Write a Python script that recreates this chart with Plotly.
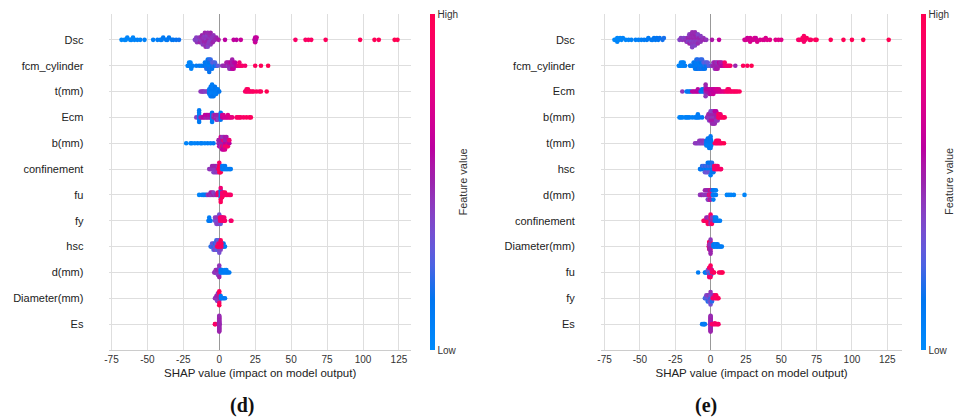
import numpy as np
import plotly.graph_objects as go

# ---------------- data (SHAP value, normalised feature value) ----------------
FEATURES_D = ["Dsc", "fcm_cylinder", "t(mm)", "Ecm", "b(mm)", "confinement",
              "fu", "fy", "hsc", "d(mm)", "Diameter(mm)", "Es"]
FEATURES_E = ["Dsc", "fcm_cylinder", "Ecm", "b(mm)", "t(mm)", "hsc",
              "d(mm)", "confinement", "Diameter(mm)", "fu", "fy", "Es"]
X_TICKS = [-75, -50, -25, 0, 25, 50, 75, 100, 125]

DSC_D = [(-68,.02),(-66,.03),(-65,.02),(-64,.04),(-62,.03),(-61,.05),(-60,.04),(-59,.05),(-57,.06),(-55,.05),(-52,.07),
         (-46,.08),(-43,.1),(-41,.09),(-40,.1),(-39,.12),(-37,.11),(-36,.12),(-35,.13),(-33,.14),(-32,.15),(-30,.16),(-28,.17),
         (-17,.4),(-16,.42),(-15.5,.45),(-15,.4),(-14,.45),(-13.5,.5),(-13,.42),(-12.5,.48),(-12,.45),(-12,.5),(-11.5,.42),(-11,.48),
         (-11,.45),(-10.5,.5),(-10,.42),(-10,.45),(-10,.5),(-9.5,.48),(-9,.4),(-9,.45),(-9,.5),(-8.5,.42),(-8,.45),(-8,.48),(-8,.4),
         (-7.5,.5),(-7,.45),(-7,.42),(-6.5,.48),(-6,.45),(-6,.5),(-5.5,.42),(-5,.45),(-4.5,.5),(-4,.45),(-3,.48),(-2,.5),
         (-0.5,.55),(4,.6),(10,.62),(12,.6),(15,.65),(24.5,.62),(25,.6),(25,.66),(25.5,.58),(26,.64),
         (53,.9),(60,.92),(62,.93),(64,.92),(74,.95),(98,.97),(108,.98),(111,.97),(122,1.0),(124,1.0)]
FCM_D = [(-22,.05),(-21.5,.05),(-21,.06),(-21,.04),(-20.5,.05),(-20,.06),(-20,.05),(-19.5,.07),(-19,.06),(-18.5,.08),
         (-16,.1),(-14,.12),(-12.5,.1),(-11,.12),(-10,.15),(-10,.12),(-9,.1),(-9,.15),(-9,.2),(-8,.12),(-8,.1),(-8,.18),(-8,.14),
         (-7,.1),(-7,.15),(-7,.12),(-7,.2),(-7,.16),(-6,.1),(-6,.14),(-6,.18),(-6,.22),(-5,.12),(-5,.25),(-5,.15),(-4,.2),(-4,.3),
         (-3,.15),(-3,.25),(-2,.2),(-1,.3),
         (2,.45),(3,.5),(4,.48),(5,.5),(5,.55),(6,.45),(6,.52),(7,.5),(7,.55),(7,.48),(8,.5),(8,.6),(8,.45),(9,.55),(9,.5),
         (9,.6),(9,.52),(10,.5),(10,.58),(10,.62),(11,.55),(11,.6),(12,.62),
         (13,.75),(14,.8),(14,.85),(15,.85),(16,.9),(18,.88),(25,.95),(29,.97),(34,1.0)]
T_D = [(-13,.45),(-12,.45),(-11.5,.42),(-11,.45),(-10,.4),(-9,.42),(-8,.4),
       (-7,.1),(-7,.12),(-7,.15),(-6,.1),(-6,.12),(-6,.08),(-6,.14),(-6,.1),(-5,.1),(-5,.12),(-5,.08),(-5,.1),(-5,.14),(-5,.1),
       (-4,.1),(-4,.12),(-4,.1),(-4,.08),(-4,.15),(-3,.1),(-3,.12),(-3,.1),(-3,.14),(-2,.1),(-2,.12),(-2,.1),(-1,.12),(-1,.1),(0,.15),
       (18,.9),(19,.92),(19,.88),(20,.9),(20,.95),(21,.9),(22,.92),(23,.9),(24,.93),(26,.95),(28,.9),(29,.95),(33,1.0)]
ECM_D = [(-16,.4),(-14,.1),(-14,.12),(-14,.1),(-14,.08),(-14,.12),(-14,.1),(-13,.5),(-12,.55),(-11,.6),(-10,.55),(-10,.6),
         (-9,.5),(-9,.62),(-8,.55),(-8,.6),(-7,.5),(-7,.58),(-6,.55),(-6,.6),
         (-5,.1),(-5,.12),(-5,.1),(-5,.14),(-5,.1),(-4,.5),(-4,.45),(-3,.5),(-3,.55),(-2,.45),(-2,.5),(-2,.55),(-1,.45),(-1,.5),
         (-1,.4),(0,.45),(0,.5),
         (1,.15),(1,.12),(1,.15),(1,.1),(2,.6),(2,.65),(3,.65),(3,.7),(4,.7),(5,.68),(6,.7),(6,.75),(7,.72),(8,.75),(9,.8),
         (12,.9),(13,.92),(14,.9),(15,.92),(17,.9),(19,.95),(21,.92),(22,.95)]
B_D = [(-23,.05),(-20,.05),(-19,.06),(-17,.05),(-15,.08),(-13,.06),(-12,.08),(-10,.07),(-8,.1),(-6,.08),(-4,.12),
       (-0.5,.5),(-0.5,.55),(0,.45),(0,.5),(0,.6),(1,.5),(1,.55),(1,.45),(1,.7),(2,.5),(2,.55),(2,.85),(2,.45),(2,.6),
       (3,.5),(3,.9),(3,.55),(3,.45),(3,.65),(4,.6),(4,.5),(4,.9),(4,.55),(4,.7),(5,.6),(5,.5),(5,.85),(5,.55),
       (6,.7),(6,.55),(6,.9),(7,.6),(7,.85)]
CONF_D = [(-7,.45),(-6,.45),(-5,.45),(-5,.5),(-4,.45),(-4,.5),(-4,.4),(-3,.45),(-3,.5),(-3,.4),(-2,.45),(-2,.5),(-2,.45),
          (-1,.5),(-1,.45),(-1,.4),
          (-0.5,.95),(0,.95),(0,1.0),(0,.95),(0,.9),(0.5,.95),(0.5,1.0),(0.5,.95),(1,.9),(1,.95),(1,1.0),(1.5,.95),(1.5,.9),
          (2,.1),(2,.12),(3,.1),(3,.08),(4,.1),(4,.12),(5,.1),(6,.08),(7,.1),(8,.1)]
FU_D = [(-14,.05),(-12,.08),(-11,.1),(-10,.1),(-9,.12),
        (-8,.45),(-7,.5),(-6,.45),(-6,.5),(-5,.45),(-5,.55),(-4,.5),(-4,.4),(-3,.45),(-2,.5),
        (-1,.85),(-1,.9),(0,.9),(0,.85),(1,.1),(1,.12),(1,.1),(1,.15),(1,.9),(1,.85),(1,.95),(2,.9),(2,.85),(2,.95),
        (3,.9),(3,.85),(4,.9),(4,.95),(5,.9),(6,.92),(7,.95),(8,.9)]
FY_D = [(-7.5,.1),(-7,.12),(-7,.1),(-6.5,.1),(-6,.12),
        (-3,.35),(-3,.4),(-2,.3),(-2,.45),(-2,.4),(-1,.35),(-1,.45),(-1,.4),(0,.3),(0,.45),(0,.4),(0,.35),(1,.4),(1,.45),
        (1,.3),(2,.4),(2,.45),
        (0.5,.85),(0.5,.9),(1.5,.85),(1.5,.9),(2.5,.9),(2.5,.85),(3.5,.9),(3.5,.85),(4,.9),
        (8,.7),(8.5,.9)]
HSC_D = [(-6,.2),(-5,.25),(-5,.3),(-4,.2),(-4,.35),(-4,.25),(-3,.3),(-3,.2),(-3,.4),(-2,.25),(-2,.35),(-2,.3),(-2,.2),
         (-1,.3),(-1,.4),(-1,.25),(-1,.35),(0,.2),(0,.3),(0,.4),(0,.25),(0,.35),(1,.3),(1,.2),(1,.4),(2,.25),(2,.3),
         (3,.2),(3,.15),(4,.1),
         (-1.5,.95),(-0.5,.95),(-0.5,.9),(0.5,.95),(1.5,.9),(1.5,.95),(1,.95)]
DD_D = [(-3.5,.45),(-3,.45),(-2.5,.45),(-2.5,.5),(-2,.45),(-2,.4),(-1.5,.45),(-1.5,.5),(-1,.45),(-1,.5),(-1,.4),
        (-0.5,.45),(-0.5,.5),(-0.5,.4),(0,.45),(0,.5),(0,.45),(0,.4),(0,.5),(0,.45),
        (1,.1),(1,.12),(2,.1),(2,.12),(3,.1),(4,.1),(4,.08),(5,.1),(5,.08),(6,.1),(7,.1)]
DIAM_D = [(-3,.45),(-2.5,.45),(-2,.45),(-2,.5),(-1.5,.45),(-1.5,.5),(-1.5,.4),(-1,.45),(-1,.5),(-1,.4),(-1,.45),
          (-0.5,.45),(-0.5,.5),(-0.5,.4),(-0.5,.45),(0,.45),(0,.5),(0,.4),
          (0,.95),(0,.9),(0,.95),(0,1.0),(0.5,.95),(0.5,.9),
          (1,.1),(1,.12),(2,.1),(3,.1),(4,.1)]
ES_D = [(-3,.95),(-2.8,.9),
        (0,.5),(0,.48),(0,.5),(0,.52),(0,.5),(0,.48),(0,.5),(0,.52),(0,.5),(0,.48),
        (0,.5),(0,.52),(0,.5),(0,.48),(0,.5),(0,.52),(0,.5),(0,.48),(0.1,.45),(-0.1,.5)]

DSC_E = [(-68,.02),(-67,.03),(-66,.02),(-66,.04),(-65,.03),(-64,.02),(-63,.04),(-62,.05),(-60,.04),(-58,.05),(-56,.06),
         (-53,.08),(-51,.07),(-49,.09),
         (-47,.1),(-45,.12),(-44,.1),(-42,.13),(-41,.12),(-40,.14),(-39,.13),(-38,.15),(-37,.14),(-36,.16),(-34,.17),(-33,.18),
         (-22,.4),(-21,.42),(-20,.45),(-19,.4),(-18,.45),(-17,.42),(-17,.48),(-16,.45),(-16,.5),(-16,.4),(-15,.45),(-15,.5),
         (-15,.42),(-14,.45),(-14,.5),(-14,.4),(-14,.48),(-13,.45),(-13,.5),(-13,.42),(-13,.48),(-13,.4),(-12,.45),(-12,.5),
         (-12,.42),(-12,.48),(-11,.45),(-11,.5),(-11,.4),(-11,.48),(-10,.45),(-10,.5),(-10,.42),(-9,.45),(-9,.48),(-9,.4),
         (-8,.45),(-8,.5),(-7,.45),(-7,.42),(-6,.48),(-5,.45),(-4,.5),(-3,.45),
         (1,.55),(6,.62),
         (24,.68),(25,.7),(26,.66),(27,.7),(28,.68),(28,.72),(29,.7),(30,.68),(31,.72),(32,.7),(32,.66),(33,.72),(35,.7),
         (37,.74),(38,.7),(39,.72),(40,.74),(42,.75),(46,.74),(48,.76),(50,.75),
         (62,.88),(63,.9),(65,.9),(65,.92),(66,.88),(66,.92),(67,.9),(68,.93),(70,.9),(71,.92),(74,.94),(75,.95),
         (85,.97),(94,.98),(100,.98),(108,1.0),(126,1.0)]
FCM_E = [(-22.5,.05),(-22,.05),(-21,.06),(-21,.04),(-20,.05),(-20,.06),(-19,.05),(-19,.07),(-18,.08),
         (-14.5,.1),(-14,.12),(-13,.1),(-12,.12),(-12,.1),(-11,.12),(-11,.15),(-11,.1),(-10,.12),(-10,.1),(-10,.15),(-10,.18),
         (-9,.1),(-9,.12),(-9,.15),(-9,.2),(-8,.12),(-8,.1),(-8,.18),(-7,.1),(-7,.15),(-7,.12),(-7,.2),(-6,.1),(-6,.14),
         (-6,.18),(-6,.22),(-5,.12),(-5,.25),(-5,.15),(-4,.2),(-4,.3),(-4,.15),(-3,.15),(-3,.25),(-2,.2),(-2,.3),(-1,.3),(0,.25),
         (1,.45),(2,.5),(2,.45),(3,.5),(3,.55),(3,.45),(4,.5),(4,.48),(4,.55),(5,.5),(5,.45),(5,.55),(6,.5),(6,.6),(7,.55),
         (7,.5),(8,.6),(8,.55),(9,.6),
         (10,.8),(10,.9),(11,.85),(12,.9),(13,.85),(14,.9),(17.5,.5),
         (23,.95),(26,.95),(29,1.0)]
ECM_E = [(-20,.45),(-17,.1),(-16,.12),(-15,.1),(-14,.12),(-13,.6),(-12,.62),(-11,.58),(-10,.6),(-9,.62),(-9,.58),(-8,.6),
         (-7,.15),(-6,.12),(-6,.15),(-5,.1),(-5,.15),(-4,.12),
         (-3.5,.45),(-3.5,.5),(-3.5,.42),(-3.5,.48),(-3.5,.45),(-3.5,.5),
         (-3,.55),(-3,.6),(-2,.55),(-2,.6),(-1,.58),(-1,.62),(-1,.55),(0,.6),(0,.58),(0,.62),(1,.6),(1,.65),(1,.58),
         (2,.62),(2,.6),(2,.66),(3,.62),(3,.65),(4,.65),(4,.68),(5,.66),(5,.7),(6,.68),(6,.72),(7,.7),(8,.72),(9,.75),(10,.78),
         (11,.85),(12,.88),(12,.9),(13,.88),(13,.9),(14,.9),(15,.92),(16,.9),(17,.92),(18,.94),(19,.92),(20.5,.95)]
B_E = [(-22,.05),(-21,.05),(-20,.06),(-18,.05),(-17,.07),(-16,.06),(-15,.08),(-13,.07),(-11,.08),(-10,.1),(-9,.08),
       (-9,.1),(-8,.1),(-6,.12),
       (-2.5,.45),(-2,.5),(-1.5,.45),(-1.5,.5),(-1,.45),(-1,.5),(-1,.4),(0,.45),(0,.5),(0,.55),(0,.4),(1,.45),(1,.5),
       (1,.55),(1,.4),(1,.48),(2,.45),(2,.5),(2,.55),(2,.42),(2,.48),(3,.45),(3,.5),(3,.55),(3,.6),(3,.48),(4,.5),(4,.55),
       (4,.45),(4,.6),(5,.5),(5,.55),(5,.45),
       (5.5,.9),(5.5,.85),(6,.9),(6,.95),(7,.9),(7,.85),(8,.9),(9,.95),(10,.95)]
T_E = [(-11,.45),(-10,.42),(-9,.45),(-8,.4),(-8,.45),(-7,.42),(-7,.45),(-6,.4),(-6,.45),(-5,.42),(-5,.45),(-4,.4),
       (-3,.1),(-3,.12),(-3,.08),(-2,.1),(-2,.12),(-2,.08),(-2,.14),(-1,.1),(-1,.12),(-1,.08),(-1,.14),(-1,.1),
       (0,.1),(0,.12),(0,.08),(0,.14),(0,.1),(0,.12),(0.5,.1),(0.5,.12),(0.5,.08),
       (3,.9),(4,.9),(4,.92),(5,.9),(5,.95),(6,.9),(6,.92),(7,.9),(8,.95),(9.5,1.0)]
HSC_E = [(-7.5,.1),(-7,.15),(-6,.1),(-6,.2),(-5,.15),(-5,.25),(-4,.1),(-4,.2),(-4,.3),(-3,.15),(-3,.25),(-3,.35),
         (-2,.1),(-2,.2),(-2,.3),(-2,.15),(-1,.1),(-1,.25),(-1,.35),(-1,.15),(0,.1),(0,.2),(0,.3),(0,.15),(0,.1),
         (1,.15),(1,.25),(1,.1),(1,.2),(2,.1),(2,.2),(2,.15),(3,.1),(3,.2),
         (2.5,.85),(2.5,.9),(3.5,.85),(3.5,.9),(4,.9),(4,.95),(5,.9),(5,.85),(6,.9),(7,.95),(7.5,.9)]
DD_E = [(-7.5,.45),(-6.5,.45),(-6,.5),(-5,.45),(-4,.45),(-4,.5),(-3,.45),(-3,.5),(-2,.45),(-2,.5),(-2,.4),
        (-1.5,.45),(-1.5,.5),(-1.5,.4),
        (-1,.85),(-1,.5),(-0.5,.9),(-0.5,.5),(-0.5,.85),(0,.45),(0,.9),(0,.5),(0.5,.85),(0.5,.5),(1,.9),
        (1.5,.1),(1.5,.12),(2,.1),(2,.12),(2,.08),(3,.1),(3,.12),(3.8,.1),(3.8,.08),
        (11.5,.05),(13,.05),(14.5,.05),(16.5,.06),(24,.05)]
CONF_E = [(-5,.95),(-4.5,.9),(-4,.95),(-3,.95),(-3,.5),(-2,.9),(-2,.5),(-2,.95),(-1,.95),(-1,.45),(-1,.9),
          (0,.5),(0,.95),(0,.45),(0,.9),(1,.5),(1,.45),(1,.95),(2,.5),(2,.45),
          (3,.1),(3,.12),(4,.1),(4,.08),(5,.1),(6,.1),(6.7,.08)]
DIAM_E = [(-1.3,.95),(-1,.95),(-1,.9),(-1,1.0),(-1,.95),(-0.5,.95),(-0.5,.9),(-0.5,1.0),(-0.5,.95),
          (0,.95),(0,.9),(0,1.0),(0,.95),
          (-0.8,.5),(-0.8,.45),(-0.8,.5),(0,.5),(0,.45),(0,.5),
          (2,.1),(2,.12),(3,.1),(3,.12),(4,.1),(4,.08),(5,.1),(5,.12),(6,.1),(7,.1),(8,.1)]
FU_E = [(-8.8,.1),(-4,.1),(-3.5,.12),(-3,.1),
        (-2,.2),(-2,.3),(-1,.25),(-1,.35),(-1,.45),(0,.2),(0,.3),(0,.4),(0,.45),(0.5,.3),(0.5,.4),(0.5,.2),
        (-1,.9),(-1,.85),(0,.9),(0,.95),(1,.9),(1,.85),(2,.9),(2.5,.95),
        (6,.95),(7,.9),(8,.95),(8.5,1.0)]
FY_E = [(-4,.2),(-3.5,.3),(-3,.25),(-3,.4),(-2,.3),(-2,.4),(-2,.2),(-1,.35),(-1,.45),(-1,.25),
        (0,.2),(0,.3),(0,.4),(0,.45),(0,.35),(1,.3),(1,.4),(1,.2),(2,.35),(2,.45),
        (1.5,.9),(3,.9),(3,.85),(4,.9),(4,.95),(5,.9),(5.6,.95)]
ES_E = [(-6,.1),(-5,.12),(-4.5,.1),(-4,.1),
        (0,.5),(0,.48),(0,.5),(0,.52),(0,.5),(0,.48),(0,.5),(0,.52),(0,.5),(0,.48),
        (0,.5),(0,.52),(0,.5),(0,.48),(0,.5),(0,.52),(0,.5),(0,.48),(-0.5,.45),(0.5,.5),
        (1,.9),(2,.9),(3,.85),(3,.9),(4,.9),(5,.95),(5.6,.9)]

ROWS_D = [DSC_D, FCM_D, T_D, ECM_D, B_D, CONF_D, FU_D, FY_D, HSC_D, DD_D, DIAM_D, ES_D]
ROWS_E = [DSC_E, FCM_E, ECM_E, B_E, T_E, HSC_E, DD_E, CONF_E, DIAM_E, FU_E, FY_E, ES_E]


# ---------------- colour map (SHAP red_blue, LCH interpolation) ----------------
def lch_to_hex(L, C, h):
    a, b = C * np.cos(h), C * np.sin(h)
    fy = (L + 16) / 116
    fx, fz = fy + a / 500, fy - b / 200

    def finv(t):
        return t ** 3 if t ** 3 > 0.008856 else (t - 16 / 116) / 7.787

    X, Y, Z = 0.95047 * finv(fx), finv(fy), 1.08883 * finv(fz)
    rgb = [3.2406 * X - 1.5372 * Y - 0.4986 * Z,
           -0.9689 * X + 1.8758 * Y + 0.0415 * Z,
           0.0557 * X - 0.2040 * Y + 1.0570 * Z]
    out = []
    for c in rgb:
        c = 1.055 * c ** (1 / 2.4) - 0.055 if c > 0.0031308 else 12.92 * c
        out.append(int(round(min(max(c, 0), 1) * 255)))
    return "rgb(%d,%d,%d)" % tuple(out)


def red_blue_scale(n=21):
    blue, red, lmid = (54., 70., 4.6588), (54., 90., 0.35470565 + 2 * np.pi), 40.
    scale = []
    for t in np.linspace(0, 1, n):
        L = blue[0] + (lmid - blue[0]) * t * 2 if t <= 0.5 else lmid + (red[0] - lmid) * (t - 0.5) * 2
        C = blue[1] + (red[1] - blue[1]) * t
        H = blue[2] + (red[2] - blue[2]) * t
        scale.append([float(t), lch_to_hex(L, C, H)])
    return scale


CS = red_blue_scale()


# ---------------- beeswarm layout (as in shap.summary_plot) ----------------
def swarm(vals, row_height=0.4, nbins=100):
    v = np.asarray(vals, float)
    quant = np.round(nbins * (v - v.min()) / (v.max() - v.min() + 1e-8))
    inds = np.argsort(quant, kind="stable")
    ys = np.zeros(len(v))
    layer, last = 0, None
    for i in inds:
        if quant[i] != last:
            layer = 0
        ys[i] = np.ceil(layer / 2) * ((layer % 2) * 2 - 1)
        layer += 1
        last = quant[i]
    ys *= 0.9 * (row_height / np.max(ys + 1))
    return ys


def panel_points(rows):
    xs, ys, cs = [], [], []
    n = len(rows)
    for k, row in enumerate(rows):
        pos = n - 1 - k
        s = [p[0] for p in row]
        f = [p[1] for p in row]
        off = swarm(s)
        xs += s
        ys += list(pos + off)
        cs += f
    return xs, ys, cs


W, H = 955, 418
fig = go.Figure()
for rows, xa, ya, ca in [(ROWS_D, "x", "y", "coloraxis"), (ROWS_E, "x2", "y2", "coloraxis2")]:
    xs, ys, cs = panel_points(rows)
    fig.add_trace(go.Scatter(x=xs, y=ys, mode="markers", xaxis=xa, yaxis=ya, hoverinfo="skip",
                             marker=dict(size=4.6, color=cs, coloraxis=ca, line=dict(width=0)),
                             showlegend=False))

FONT = "Liberation Sans, Arial, sans-serif"
ydom = [1 - 350 / H, 1 - 14 / H]


def xaxis(dom, rng, anchor):
    return dict(domain=dom, range=rng, anchor=anchor, tickvals=X_TICKS, ticktext=[str(t) for t in X_TICKS],
                showgrid=True, gridcolor="#dedede", gridwidth=1, zeroline=True, zerolinecolor="#999999",
                zerolinewidth=1.3, showline=True, linecolor="#cccccc", linewidth=1, ticks="",
                tickfont=dict(size=10, color="#333333", family=FONT),
                title=dict(text="SHAP value (impact on model output)", standoff=4,
                           font=dict(size=11.5, color="#222222", family=FONT)))


def yaxis(names, anchor):
    n = len(names)
    return dict(domain=ydom, range=[-1, n], anchor=anchor, tickvals=list(range(n)),
                ticktext=list(reversed(names)), showgrid=True, gridcolor="#dedede", gridwidth=1,
                zeroline=False, showline=False, ticks="", ticklabelstandoff=25,
                tickfont=dict(size=11, color="#222222", family=FONT))


def cbar(xpix):
    return dict(colorscale=CS, cmin=0, cmax=1,
                colorbar=dict(x=xpix / W, xanchor="left", xpad=0, ypad=0, y=1 - 182 / H, yanchor="middle",
                              len=336, lenmode="pixels", thickness=5, thicknessmode="pixels",
                              outlinewidth=0, tickvals=[0, 1], ticktext=["Low", "High"], ticks="",
                              tickfont=dict(size=10, color="#333333", family=FONT)))


def label(text, xpix, ypix, size, family, angle=0, color="#111111"):
    return dict(text=text, x=xpix / W, y=1 - ypix / H, xref="paper", yref="paper", showarrow=False,
                xanchor="center", yanchor="middle", textangle=angle,
                font=dict(size=size, color=color, family=family))


fig.update_layout(
    width=W, height=H, margin=dict(l=0, r=0, t=0, b=0),
    paper_bgcolor="white", plot_bgcolor="white", font=dict(family=FONT),
    xaxis=xaxis([105 / W, 408 / W], [-76.4, 133.3], "y"),
    yaxis=yaxis(FEATURES_D, "x"),
    xaxis2=xaxis([599 / W, 902 / W], [-77.6, 135.6], "y2"),
    yaxis2=yaxis(FEATURES_E, "x2"),
    coloraxis=cbar(427),
    coloraxis2=cbar(921),
    annotations=[
        label("<b>(d)</b>", 238, 405, 20, "Liberation Serif, serif"),
        label("<b>(e)</b>", 705, 405, 20, "Liberation Serif, serif"),
        label("Feature value", 460, 182, 11, FONT, angle=-90, color="#333333"),
        label("Feature value", 949, 182, 11, FONT, angle=-90, color="#333333"),
    ],
)

fig.write_html("out.html", config={"displayModeBar": False},
               post_script="document.body.style.margin='0';document.body.style.overflow='hidden';")
